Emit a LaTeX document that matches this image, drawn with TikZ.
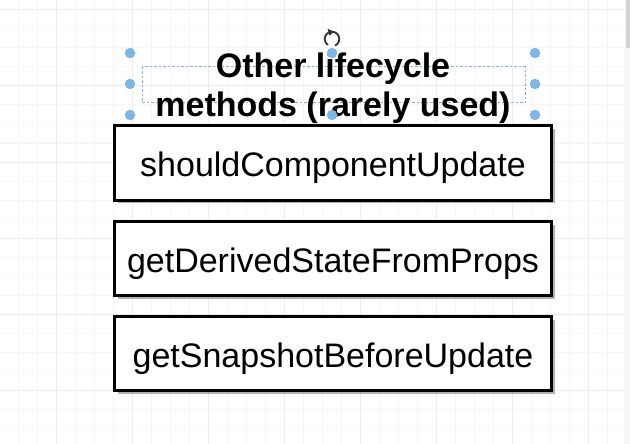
\documentclass[tikz,border=0pt]{standalone}
\usepackage{fontspec}
\setmainfont{Liberation Sans}
\usetikzlibrary{shadows,arrows.meta}
\definecolor{gridminor}{HTML}{F6F6F8}
\definecolor{gridmajor}{HTML}{ECECEE}
\definecolor{handle}{HTML}{7EB6E6}
\definecolor{selline}{HTML}{7FB3E3}
\begin{document}
\begin{tikzpicture}[x=1pt,y=-1pt,
  methodbox/.style={draw=black, line width=3pt, fill=white,
    minimum width=437pt, minimum height=74pt, inner sep=0pt,
    text height=27pt, text depth=0pt,
    font=\fontsize{34}{39}\selectfont,
    drop shadow={shadow xshift=3pt, shadow yshift=-3pt, fill=black, opacity=0.3}},
  titletext/.style={align=center, inner sep=0pt, font=\fontsize{34}{39}\selectfont\bfseries},
  handledot/.style={circle, fill=handle, inner sep=0pt, minimum size=10.5pt},
  selrect/.style={draw=selline, line width=1pt, dash pattern=on 2.5pt off 2pt},
]
\useasboundingbox (0,0) rectangle (630,444);
\fill[white] (0,0) rectangle (630,444);
% grid
\foreach \k in {-2,...,30} {
  \draw[gridminor, line width=1pt] ({56+19*\k},0) -- ({56+19*\k},444);
}
\foreach \k in {0,...,23} {
  \draw[gridminor, line width=1pt] (0,{10+19*\k}) -- (630,{10+19*\k});
}
\foreach \k in {0,...,7} {
  \draw[gridmajor, line width=1pt] ({56+76*\k},0) -- ({56+76*\k},444);
}
\foreach \k in {0,...,5} {
  \draw[gridmajor, line width=1pt] (0,{10+76*\k}) -- (630,{10+76*\k});
}
% scrollbar
\fill[gray!6] (624,0) rectangle (630,444);
\fill[gray!35] (625.5,0) rectangle (630,48);
% boxes
\node[methodbox] (b1) at (333,163) {shouldComponentUpdate};
\node[methodbox] (b2) at (333,258.5) {getDerivedStateFromProps};
\node[methodbox] (b3) at (333,353.5) {getSnapshotBeforeUpdate};
% selection rectangle and title
\draw[selrect] (142,67) rectangle (525,103);
\node[titletext] (title) at (333,88) {Other lifecycle\\methods (rarely used)};
% handles
\foreach \p/\n in {{130,53}/h1,{130,84}/h2,{130,115}/h3,{535,53}/h4,{535,84}/h5,{535,115}/h6,{332,53}/h7,{332,115}/h8} {
  \node[handledot] (\n) at (\p) {};
}
% rotate icon
\coordinate (rot) at (332,39);
\draw[black!80, line width=1.8pt] (rot) ++(65:7.3) arc[start angle=65, end angle=-235, radius=7.3];
\fill[black!80] (rot) ++(0,-7.3) ++(-4.5,-3) -- ++(6.5,3) -- ++(-4.5,4) -- cycle;
\end{tikzpicture}
\end{document}
